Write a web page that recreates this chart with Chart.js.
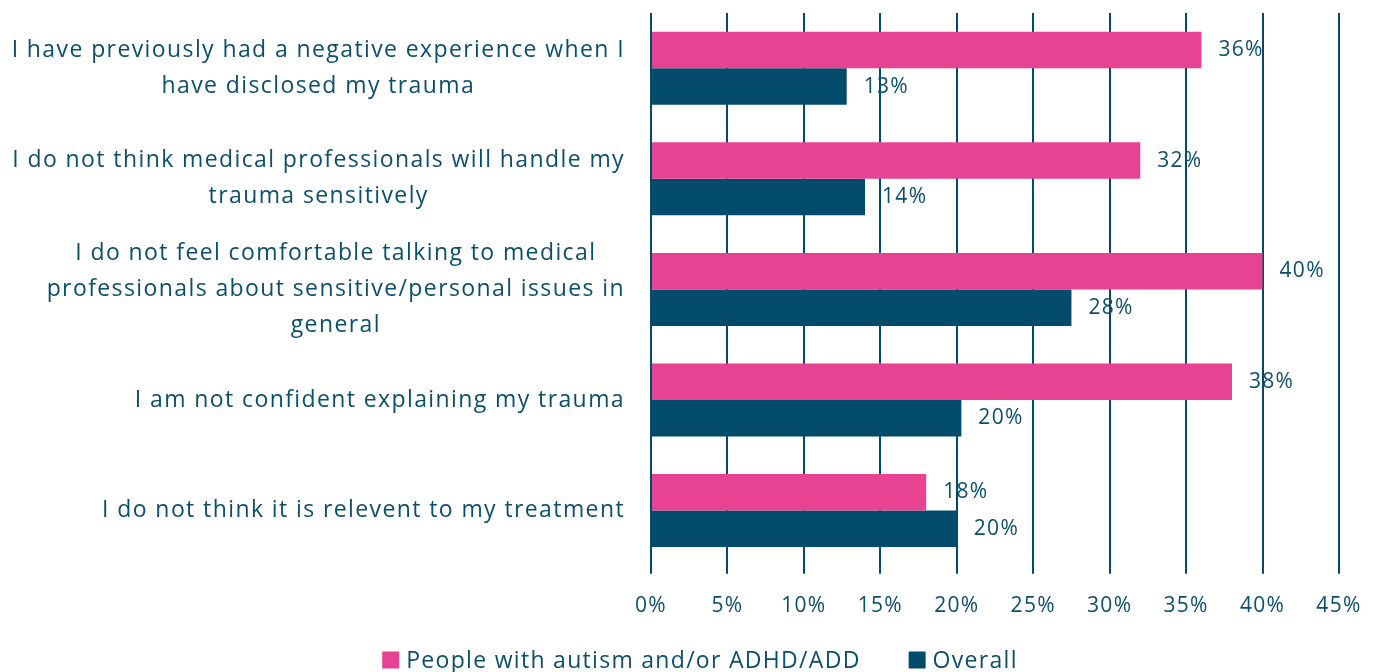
<!DOCTYPE html>
<html>
<head>
<meta charset="utf-8">
<script src="https://cdn.jsdelivr.net/npm/chart.js@4/dist/chart.umd.min.js"></script>
<style>
  html, body { margin: 0; padding: 0; background: #fff; }
  #wrap { width: 1378px; height: 672px; position: relative; }
</style>
</head>
<body>
<div id="wrap"><canvas id="c"></canvas></div>
<script>
const categories = [
  ["I have previously had a negative experience when I", "have disclosed my trauma"],
  ["I do not think medical professionals will handle my", "trauma sensitively"],
  ["I do not feel comfortable talking to medical", "professionals about sensitive/personal issues in", "general"],
  ["I am not confident explaining my trauma"],
  ["I do not think it is relevent to my treatment"]
];
const seriesNames = ["People with autism and/or ADHD/ADD", "Overall"];
const autismValues = [36, 32, 40, 38, 18];
const overallValues = [12.8, 14, 27.5, 20.3, 20];
const xTicks = [0, 5, 10, 15, 20, 25, 30, 35, 40, 45];

const TEXT = '#0B4F6C';
const PINK = '#E84393';
const TEAL = '#024B6A';
const LABEL_FONT = '"Open Sans", "Noto Sans", sans-serif';
const SPACING = '1.3px';

const spacingPlugin = {
  id: 'spacing',
  beforeLayout(chart) { chart.ctx.letterSpacing = SPACING; },
  beforeDraw(chart) { chart.ctx.letterSpacing = SPACING; }
};

const categoryLabelPlugin = {
  id: 'catLabels',
  afterDraw(chart) {
    const ctx = chart.ctx;
    const y = chart.scales.y;
    const right = chart.chartArea.left - 26;
    ctx.save();
    ctx.letterSpacing = '1.4px';
    ctx.font = '23px ' + LABEL_FONT;
    ctx.fillStyle = TEXT;
    ctx.textAlign = 'center';
    ctx.textBaseline = 'middle';
    const lh = 36;
    categories.forEach((lines, i) => {
      const cy = y.getPixelForTick(i);
      const maxW = Math.max(...lines.map(l => ctx.measureText(l).width));
      const cx = right - maxW / 2;
      const top = cy - (lines.length - 1) * lh / 2;
      lines.forEach((l, k) => ctx.fillText(l, cx, top + k * lh));
    });
    ctx.restore();
  }
};

const valueLabelPlugin = {
  id: 'valueLabels',
  afterDatasetsDraw(chart) {
    const ctx = chart.ctx;
    ctx.save();
    ctx.letterSpacing = SPACING;
    ctx.font = '21px ' + LABEL_FONT;
    ctx.fillStyle = TEXT;
    ctx.textAlign = 'left';
    ctx.textBaseline = 'middle';
    chart.data.datasets.forEach((ds, di) => {
      const meta = chart.getDatasetMeta(di);
      meta.data.forEach((bar, i) => {
        ctx.fillText(Math.round(ds.data[i]) + '%', bar.x + 17, bar.y);
      });
    });
    ctx.restore();
  }
};

const legendPlugin = {
  id: 'customLegend',
  afterDraw(chart) {
    const ctx = chart.ctx;
    ctx.save();
    ctx.letterSpacing = SPACING;
    ctx.font = '23px ' + LABEL_FONT;
    ctx.textAlign = 'left';
    ctx.textBaseline = 'middle';
    const box = 17, gapText = 7, gapItem = 48;
    const items = chart.data.datasets.map(ds => ({ text: ds.label, color: ds.backgroundColor, w: ctx.measureText(ds.label).width }));
    const total = items.reduce((s, it) => s + box + gapText + it.w, 0) + gapItem * (items.length - 1);
    let x = chart.width / 2 + 11 - total / 2;
    const cy = 660;
    items.forEach(it => {
      ctx.fillStyle = it.color;
      ctx.fillRect(x, cy - box / 2, box, box);
      ctx.fillStyle = TEXT;
      ctx.fillText(it.text, x + box + gapText, cy + 1);
      x += box + gapText + it.w + gapItem;
    });
    ctx.restore();
  }
};

new Chart(document.getElementById('c'), {
  type: 'bar',
  data: {
    labels: categories.map(c => c.join(' ')),
    datasets: [
      { label: seriesNames[0], data: autismValues, backgroundColor: PINK },
      { label: seriesNames[1], data: overallValues, backgroundColor: TEAL }
    ]
  },
  plugins: [spacingPlugin, categoryLabelPlugin, valueLabelPlugin, legendPlugin],
  options: {
    indexAxis: 'y',
    responsive: true,
    maintainAspectRatio: false,
    animation: false,
    layout: { padding: { top: 13, right: 39, left: 0, bottom: 33 } },
    datasets: { bar: { categoryPercentage: 0.66, barPercentage: 1 } },
    scales: {
      x: {
        min: 0, max: 45,
        afterBuildTicks(scale) { scale.ticks = xTicks.map(v => ({ value: v })); },
        afterFit(scale) { scale.paddingRight = 0; scale.paddingLeft = 0; },
        ticks: {
          callback: v => v + '%',
          color: TEXT,
          font: { family: LABEL_FONT, size: 21 },
          padding: 20,
          maxRotation: 0
        },
        grid: { color: TEAL, lineWidth: 2, tickLength: 8, drawTicks: true },
        border: { display: false }
      },
      y: {
        ticks: { display: false },
        grid: { display: false },
        border: { display: false },
        afterFit(scale) { scale.width = 651; }
      }
    },
    plugins: {
      legend: { display: false },
      tooltip: { enabled: false }
    }
  }
});
</script>
</body>
</html>
